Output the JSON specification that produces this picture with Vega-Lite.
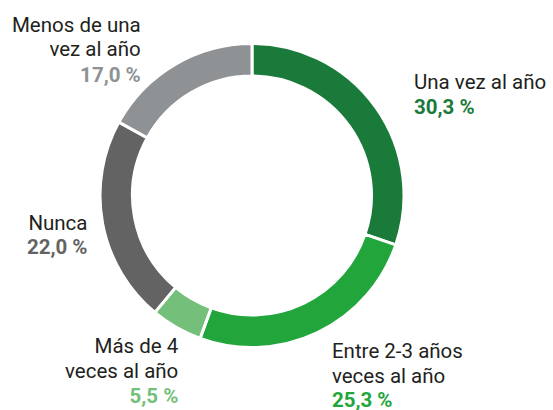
{
  "$schema": "https://vega.github.io/schema/vega-lite/v6.json",
  "width": 504,
  "height": 391,
  "autosize": "none",
  "padding": {"left": 0, "top": 0, "right": 49, "bottom": 19},
  "background": "white",
  "config": {"view": {"stroke": null}, "text": {"font": "Roboto", "fontSize": 20.5, "lineHeight": 24.7, "lineBreak": "\n"}},
  "data": {"values": [
    {"cat": "Una vez al año", "label": "Una vez al año", "pct": "30,3 %", "value": 30.3, "ord": 1},
    {"cat": "Entre 2-3 años veces al año", "label": "Entre 2-3 años\nveces al año", "pct": "25,3 %", "value": 25.3, "ord": 2},
    {"cat": "Más de 4 veces al año", "label": "Más de 4\nveces al año", "pct": "5,5 %", "value": 5.5, "ord": 3},
    {"cat": "Nunca", "label": "Nunca", "pct": "22,0 %", "value": 22.0, "ord": 4},
    {"cat": "Menos de una vez al año", "label": "Menos de una\nvez al año", "pct": "17,0 %", "value": 17.0, "ord": 5}
  ]},
  "encoding": {
    "theta": {"field": "value", "type": "quantitative", "stack": true},
    "order": {"field": "ord", "type": "quantitative"}
  },
  "layer": [
    {
      "mark": {"type": "arc", "innerRadius": 119.5, "outerRadius": 152, "stroke": "white", "strokeWidth": 3},
      "encoding": {
        "color": {"field": "cat", "type": "nominal", "legend": null,
          "scale": {"domain": ["Una vez al año", "Entre 2-3 años veces al año", "Más de 4 veces al año", "Nunca", "Menos de una vez al año"],
                    "range": ["#1a7a3a", "#22a63c", "#74bf7a", "#636363", "#8e9294"]}}
      }
    },
    {"mark": {"type": "text", "radius": 185, "align": "left", "baseline": "alphabetic", "dx": 11.4, "dy": 1.2, "fill": "#231f20"},
     "encoding": {"detail": {"field": "cat"}, "text": {"condition": {"test": "datum.ord === 1", "field": "label"}, "value": ""}}},
    {"mark": {"type": "text", "radius": 185, "align": "left", "baseline": "alphabetic", "dx": 11.4, "dy": 25.9, "fontWeight": "bold"},
     "encoding": {"color": {"field": "cat", "type": "nominal", "legend": null}, "text": {"condition": {"test": "datum.ord === 1", "field": "pct"}, "value": ""}}},
    {"mark": {"type": "text", "radius": 185, "align": "left", "baseline": "alphabetic", "dx": 0.2, "dy": -4.4, "fill": "#231f20"},
     "encoding": {"detail": {"field": "cat"}, "text": {"condition": {"test": "datum.ord === 2", "field": "label"}, "value": ""}}},
    {"mark": {"type": "text", "radius": 185, "align": "left", "baseline": "alphabetic", "dx": 0.2, "dy": 44.6, "fontWeight": "bold"},
     "encoding": {"color": {"field": "cat", "type": "nominal", "legend": null}, "text": {"condition": {"test": "datum.ord === 2", "field": "pct"}, "value": ""}}},
    {"mark": {"type": "text", "radius": 185, "align": "right", "baseline": "alphabetic", "dx": 18.4, "dy": -3, "fill": "#231f20"},
     "encoding": {"detail": {"field": "cat"}, "text": {"condition": {"test": "datum.ord === 3", "field": "label"}, "value": ""}}},
    {"mark": {"type": "text", "radius": 185, "align": "right", "baseline": "alphabetic", "dx": 18.4, "dy": 47, "fontWeight": "bold"},
     "encoding": {"color": {"field": "cat", "type": "nominal", "legend": null}, "text": {"condition": {"test": "datum.ord === 3", "field": "pct"}, "value": ""}}},
    {"mark": {"type": "text", "radius": 185, "align": "right", "baseline": "alphabetic", "dx": 17.3, "dy": 0.1, "fill": "#231f20"},
     "encoding": {"detail": {"field": "cat"}, "text": {"condition": {"test": "datum.ord === 4", "field": "label"}, "value": ""}}},
    {"mark": {"type": "text", "radius": 185, "align": "right", "baseline": "alphabetic", "dx": 17.3, "dy": 24.6, "fontWeight": "bold"},
     "encoding": {"color": {"field": "cat", "type": "nominal", "legend": null}, "text": {"condition": {"test": "datum.ord === 4", "field": "pct"}, "value": ""}}},
    {"mark": {"type": "text", "radius": 185, "align": "right", "baseline": "alphabetic", "dx": -17.2, "dy": -4.5, "fill": "#231f20"},
     "encoding": {"detail": {"field": "cat"}, "text": {"condition": {"test": "datum.ord === 5", "field": "label"}, "value": ""}}},
    {"mark": {"type": "text", "radius": 185, "align": "right", "baseline": "alphabetic", "dx": -17.2, "dy": 45.5, "fontWeight": "bold"},
     "encoding": {"color": {"field": "cat", "type": "nominal", "legend": null}, "text": {"condition": {"test": "datum.ord === 5", "field": "pct"}, "value": ""}}}
  ]
}
